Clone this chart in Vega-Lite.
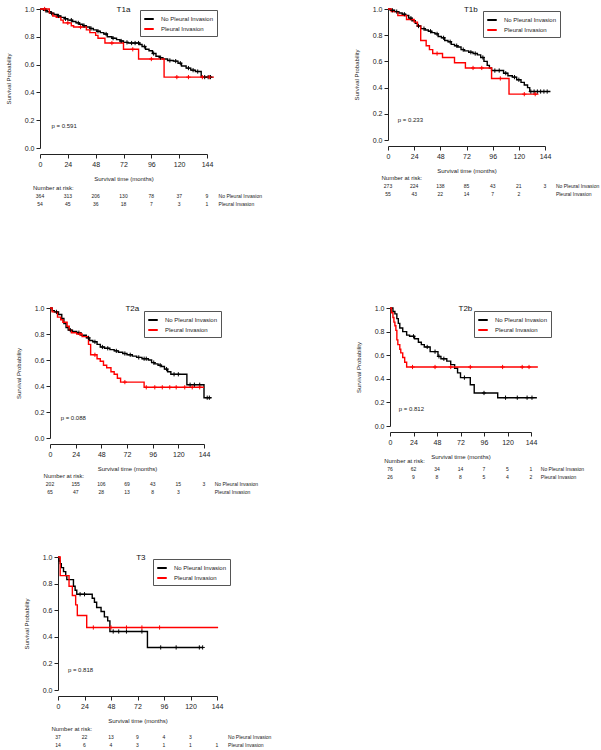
{
"$schema":"https://vega.github.io/schema/vega-lite/v6.json",
"padding":{"left":0,"top":4,"right":0,"bottom":0},
"background":"white",
"config":{"font":"Liberation Sans","view":{"stroke":null},
"axis":{"domainColor":"#222","tickColor":"#222","labelColor":"#222","titleColor":"#222","labelFontSize":7,"titleFontSize":6,"titleFontWeight":"normal","tickSize":4,"labelPadding":2,"grid":false,"labelOverlap":false,"labelFont":"Liberation Sans","titleFont":"Liberation Sans"},
"legend":{"labelFontSize":6,"symbolType":"stroke","symbolStrokeWidth":2,"symbolSize":90,"strokeColor":"#555","padding":3,"rowPadding":0,"labelOffset":6,"fillColor":"#ffffff","labelColor":"#222","labelFont":"Liberation Sans"}},
"datasets":{
"km":[
{"p":"T1a","g":"No Pleural Invasion","t":0,"s":1},{"p":"T1a","g":"No Pleural Invasion","t":3,"s":0.99},{"p":"T1a","g":"No Pleural Invasion","t":6,"s":0.98},{"p":"T1a","g":"No Pleural Invasion","t":9,"s":0.97},{"p":"T1a","g":"No Pleural Invasion","t":12,"s":0.96},{"p":"T1a","g":"No Pleural Invasion","t":15,"s":0.95},{"p":"T1a","g":"No Pleural Invasion","t":18,"s":0.94},{"p":"T1a","g":"No Pleural Invasion","t":21,"s":0.93},{"p":"T1a","g":"No Pleural Invasion","t":24,"s":0.92},{"p":"T1a","g":"No Pleural Invasion","t":28,"s":0.91},{"p":"T1a","g":"No Pleural Invasion","t":31,"s":0.90},{"p":"T1a","g":"No Pleural Invasion","t":34,"s":0.89},{"p":"T1a","g":"No Pleural Invasion","t":37,"s":0.88},{"p":"T1a","g":"No Pleural Invasion","t":40,"s":0.87},{"p":"T1a","g":"No Pleural Invasion","t":43,"s":0.86},{"p":"T1a","g":"No Pleural Invasion","t":46,"s":0.85},{"p":"T1a","g":"No Pleural Invasion","t":49,"s":0.84},{"p":"T1a","g":"No Pleural Invasion","t":52,"s":0.83},{"p":"T1a","g":"No Pleural Invasion","t":55,"s":0.82},{"p":"T1a","g":"No Pleural Invasion","t":58,"s":0.80},{"p":"T1a","g":"No Pleural Invasion","t":62,"s":0.79},{"p":"T1a","g":"No Pleural Invasion","t":66,"s":0.78},{"p":"T1a","g":"No Pleural Invasion","t":69,"s":0.77},{"p":"T1a","g":"No Pleural Invasion","t":72,"s":0.76},{"p":"T1a","g":"No Pleural Invasion","t":76,"s":0.755},{"p":"T1a","g":"No Pleural Invasion","t":86,"s":0.745},{"p":"T1a","g":"No Pleural Invasion","t":88,"s":0.73},{"p":"T1a","g":"No Pleural Invasion","t":91,"s":0.71},{"p":"T1a","g":"No Pleural Invasion","t":94,"s":0.70},{"p":"T1a","g":"No Pleural Invasion","t":97,"s":0.68},{"p":"T1a","g":"No Pleural Invasion","t":100,"s":0.66},{"p":"T1a","g":"No Pleural Invasion","t":103,"s":0.65},{"p":"T1a","g":"No Pleural Invasion","t":106,"s":0.64},{"p":"T1a","g":"No Pleural Invasion","t":110,"s":0.63},{"p":"T1a","g":"No Pleural Invasion","t":115,"s":0.625},{"p":"T1a","g":"No Pleural Invasion","t":119,"s":0.61},{"p":"T1a","g":"No Pleural Invasion","t":122,"s":0.59},{"p":"T1a","g":"No Pleural Invasion","t":126,"s":0.575},{"p":"T1a","g":"No Pleural Invasion","t":130,"s":0.56},{"p":"T1a","g":"No Pleural Invasion","t":134,"s":0.55},{"p":"T1a","g":"No Pleural Invasion","t":139,"s":0.51},{"p":"T1a","g":"No Pleural Invasion","t":148,"s":0.51},
{"p":"T1a","g":"Pleural Invasion","t":0,"s":1},{"p":"T1a","g":"Pleural Invasion","t":8,"s":0.97},{"p":"T1a","g":"Pleural Invasion","t":11,"s":0.95},{"p":"T1a","g":"Pleural Invasion","t":14,"s":0.94},{"p":"T1a","g":"Pleural Invasion","t":18,"s":0.92},{"p":"T1a","g":"Pleural Invasion","t":20,"s":0.90},{"p":"T1a","g":"Pleural Invasion","t":27,"s":0.88},{"p":"T1a","g":"Pleural Invasion","t":29,"s":0.87},{"p":"T1a","g":"Pleural Invasion","t":40,"s":0.85},{"p":"T1a","g":"Pleural Invasion","t":43,"s":0.83},{"p":"T1a","g":"Pleural Invasion","t":48,"s":0.81},{"p":"T1a","g":"Pleural Invasion","t":50,"s":0.79},{"p":"T1a","g":"Pleural Invasion","t":56,"s":0.755},{"p":"T1a","g":"Pleural Invasion","t":72,"s":0.71},{"p":"T1a","g":"Pleural Invasion","t":85,"s":0.64},{"p":"T1a","g":"Pleural Invasion","t":107,"s":0.51},{"p":"T1a","g":"Pleural Invasion","t":150,"s":0.51},
{"p":"T1b","g":"No Pleural Invasion","t":0,"s":1},{"p":"T1b","g":"No Pleural Invasion","t":2,"s":0.99},{"p":"T1b","g":"No Pleural Invasion","t":6,"s":0.98},{"p":"T1b","g":"No Pleural Invasion","t":10,"s":0.97},{"p":"T1b","g":"No Pleural Invasion","t":13,"s":0.96},{"p":"T1b","g":"No Pleural Invasion","t":16,"s":0.95},{"p":"T1b","g":"No Pleural Invasion","t":19,"s":0.93},{"p":"T1b","g":"No Pleural Invasion","t":22,"s":0.91},{"p":"T1b","g":"No Pleural Invasion","t":25,"s":0.89},{"p":"T1b","g":"No Pleural Invasion","t":27,"s":0.87},{"p":"T1b","g":"No Pleural Invasion","t":30,"s":0.85},{"p":"T1b","g":"No Pleural Invasion","t":34,"s":0.84},{"p":"T1b","g":"No Pleural Invasion","t":37,"s":0.83},{"p":"T1b","g":"No Pleural Invasion","t":40,"s":0.82},{"p":"T1b","g":"No Pleural Invasion","t":43,"s":0.81},{"p":"T1b","g":"No Pleural Invasion","t":46,"s":0.79},{"p":"T1b","g":"No Pleural Invasion","t":49,"s":0.78},{"p":"T1b","g":"No Pleural Invasion","t":52,"s":0.76},{"p":"T1b","g":"No Pleural Invasion","t":55,"s":0.75},{"p":"T1b","g":"No Pleural Invasion","t":58,"s":0.73},{"p":"T1b","g":"No Pleural Invasion","t":61,"s":0.72},{"p":"T1b","g":"No Pleural Invasion","t":64,"s":0.71},{"p":"T1b","g":"No Pleural Invasion","t":67,"s":0.69},{"p":"T1b","g":"No Pleural Invasion","t":70,"s":0.68},{"p":"T1b","g":"No Pleural Invasion","t":74,"s":0.67},{"p":"T1b","g":"No Pleural Invasion","t":78,"s":0.66},{"p":"T1b","g":"No Pleural Invasion","t":82,"s":0.65},{"p":"T1b","g":"No Pleural Invasion","t":85,"s":0.63},{"p":"T1b","g":"No Pleural Invasion","t":88,"s":0.60},{"p":"T1b","g":"No Pleural Invasion","t":91,"s":0.57},{"p":"T1b","g":"No Pleural Invasion","t":93,"s":0.55},{"p":"T1b","g":"No Pleural Invasion","t":95,"s":0.53},{"p":"T1b","g":"No Pleural Invasion","t":106,"s":0.51},{"p":"T1b","g":"No Pleural Invasion","t":110,"s":0.49},{"p":"T1b","g":"No Pleural Invasion","t":114,"s":0.48},{"p":"T1b","g":"No Pleural Invasion","t":118,"s":0.46},{"p":"T1b","g":"No Pleural Invasion","t":122,"s":0.44},{"p":"T1b","g":"No Pleural Invasion","t":125,"s":0.42},{"p":"T1b","g":"No Pleural Invasion","t":128,"s":0.40},{"p":"T1b","g":"No Pleural Invasion","t":130,"s":0.37},{"p":"T1b","g":"No Pleural Invasion","t":149,"s":0.37},
{"p":"T1b","g":"Pleural Invasion","t":0,"s":1},{"p":"T1b","g":"Pleural Invasion","t":3,"s":0.98},{"p":"T1b","g":"Pleural Invasion","t":9,"s":0.95},{"p":"T1b","g":"Pleural Invasion","t":17,"s":0.92},{"p":"T1b","g":"Pleural Invasion","t":24,"s":0.90},{"p":"T1b","g":"Pleural Invasion","t":27,"s":0.87},{"p":"T1b","g":"Pleural Invasion","t":30,"s":0.76},{"p":"T1b","g":"Pleural Invasion","t":35,"s":0.72},{"p":"T1b","g":"Pleural Invasion","t":38,"s":0.69},{"p":"T1b","g":"Pleural Invasion","t":41,"s":0.66},{"p":"T1b","g":"Pleural Invasion","t":50,"s":0.63},{"p":"T1b","g":"Pleural Invasion","t":61,"s":0.59},{"p":"T1b","g":"Pleural Invasion","t":71,"s":0.55},{"p":"T1b","g":"Pleural Invasion","t":95,"s":0.47},{"p":"T1b","g":"Pleural Invasion","t":111,"s":0.35},{"p":"T1b","g":"Pleural Invasion","t":138,"s":0.35},
{"p":"T2a","g":"No Pleural Invasion","t":0,"s":1},{"p":"T2a","g":"No Pleural Invasion","t":2,"s":0.98},{"p":"T2a","g":"No Pleural Invasion","t":4,"s":0.97},{"p":"T2a","g":"No Pleural Invasion","t":8,"s":0.95},{"p":"T2a","g":"No Pleural Invasion","t":11,"s":0.92},{"p":"T2a","g":"No Pleural Invasion","t":13,"s":0.88},{"p":"T2a","g":"No Pleural Invasion","t":15,"s":0.85},{"p":"T2a","g":"No Pleural Invasion","t":17,"s":0.83},{"p":"T2a","g":"No Pleural Invasion","t":21,"s":0.82},{"p":"T2a","g":"No Pleural Invasion","t":25,"s":0.81},{"p":"T2a","g":"No Pleural Invasion","t":29,"s":0.79},{"p":"T2a","g":"No Pleural Invasion","t":34,"s":0.77},{"p":"T2a","g":"No Pleural Invasion","t":37,"s":0.75},{"p":"T2a","g":"No Pleural Invasion","t":40,"s":0.74},{"p":"T2a","g":"No Pleural Invasion","t":44,"s":0.72},{"p":"T2a","g":"No Pleural Invasion","t":47,"s":0.70},{"p":"T2a","g":"No Pleural Invasion","t":51,"s":0.69},{"p":"T2a","g":"No Pleural Invasion","t":56,"s":0.68},{"p":"T2a","g":"No Pleural Invasion","t":60,"s":0.67},{"p":"T2a","g":"No Pleural Invasion","t":64,"s":0.66},{"p":"T2a","g":"No Pleural Invasion","t":68,"s":0.65},{"p":"T2a","g":"No Pleural Invasion","t":72,"s":0.64},{"p":"T2a","g":"No Pleural Invasion","t":77,"s":0.63},{"p":"T2a","g":"No Pleural Invasion","t":81,"s":0.62},{"p":"T2a","g":"No Pleural Invasion","t":86,"s":0.61},{"p":"T2a","g":"No Pleural Invasion","t":92,"s":0.60},{"p":"T2a","g":"No Pleural Invasion","t":95,"s":0.58},{"p":"T2a","g":"No Pleural Invasion","t":98,"s":0.57},{"p":"T2a","g":"No Pleural Invasion","t":101,"s":0.56},{"p":"T2a","g":"No Pleural Invasion","t":104,"s":0.55},{"p":"T2a","g":"No Pleural Invasion","t":107,"s":0.53},{"p":"T2a","g":"No Pleural Invasion","t":110,"s":0.51},{"p":"T2a","g":"No Pleural Invasion","t":113,"s":0.49},{"p":"T2a","g":"No Pleural Invasion","t":128,"s":0.41},{"p":"T2a","g":"No Pleural Invasion","t":144,"s":0.31},{"p":"T2a","g":"No Pleural Invasion","t":151,"s":0.31},
{"p":"T2a","g":"Pleural Invasion","t":0,"s":1},{"p":"T2a","g":"Pleural Invasion","t":2,"s":0.97},{"p":"T2a","g":"Pleural Invasion","t":7,"s":0.93},{"p":"T2a","g":"Pleural Invasion","t":10,"s":0.91},{"p":"T2a","g":"Pleural Invasion","t":12,"s":0.89},{"p":"T2a","g":"Pleural Invasion","t":16,"s":0.86},{"p":"T2a","g":"Pleural Invasion","t":18,"s":0.83},{"p":"T2a","g":"Pleural Invasion","t":20,"s":0.81},{"p":"T2a","g":"Pleural Invasion","t":25,"s":0.80},{"p":"T2a","g":"Pleural Invasion","t":30,"s":0.78},{"p":"T2a","g":"Pleural Invasion","t":36,"s":0.72},{"p":"T2a","g":"Pleural Invasion","t":38,"s":0.64},{"p":"T2a","g":"Pleural Invasion","t":44,"s":0.61},{"p":"T2a","g":"Pleural Invasion","t":47,"s":0.59},{"p":"T2a","g":"Pleural Invasion","t":50,"s":0.56},{"p":"T2a","g":"Pleural Invasion","t":53,"s":0.54},{"p":"T2a","g":"Pleural Invasion","t":57,"s":0.51},{"p":"T2a","g":"Pleural Invasion","t":60,"s":0.49},{"p":"T2a","g":"Pleural Invasion","t":63,"s":0.46},{"p":"T2a","g":"Pleural Invasion","t":66,"s":0.43},{"p":"T2a","g":"Pleural Invasion","t":88,"s":0.39},{"p":"T2a","g":"Pleural Invasion","t":144,"s":0.39},
{"p":"T2b","g":"No Pleural Invasion","t":0,"s":1},{"p":"T2b","g":"No Pleural Invasion","t":3,"s":0.97},{"p":"T2b","g":"No Pleural Invasion","t":5,"s":0.95},{"p":"T2b","g":"No Pleural Invasion","t":7,"s":0.91},{"p":"T2b","g":"No Pleural Invasion","t":8.5,"s":0.87},{"p":"T2b","g":"No Pleural Invasion","t":10,"s":0.83},{"p":"T2b","g":"No Pleural Invasion","t":13,"s":0.80},{"p":"T2b","g":"No Pleural Invasion","t":17,"s":0.77},{"p":"T2b","g":"No Pleural Invasion","t":20,"s":0.76},{"p":"T2b","g":"No Pleural Invasion","t":25,"s":0.74},{"p":"T2b","g":"No Pleural Invasion","t":29,"s":0.71},{"p":"T2b","g":"No Pleural Invasion","t":32,"s":0.69},{"p":"T2b","g":"No Pleural Invasion","t":35,"s":0.67},{"p":"T2b","g":"No Pleural Invasion","t":41,"s":0.63},{"p":"T2b","g":"No Pleural Invasion","t":49,"s":0.59},{"p":"T2b","g":"No Pleural Invasion","t":52,"s":0.57},{"p":"T2b","g":"No Pleural Invasion","t":58,"s":0.55},{"p":"T2b","g":"No Pleural Invasion","t":62,"s":0.52},{"p":"T2b","g":"No Pleural Invasion","t":66,"s":0.49},{"p":"T2b","g":"No Pleural Invasion","t":69,"s":0.45},{"p":"T2b","g":"No Pleural Invasion","t":72,"s":0.41},{"p":"T2b","g":"No Pleural Invasion","t":82,"s":0.35},{"p":"T2b","g":"No Pleural Invasion","t":86,"s":0.28},{"p":"T2b","g":"No Pleural Invasion","t":110,"s":0.24},{"p":"T2b","g":"No Pleural Invasion","t":150,"s":0.24},
{"p":"T2b","g":"Pleural Invasion","t":0,"s":1},{"p":"T2b","g":"Pleural Invasion","t":1.5,"s":0.96},{"p":"T2b","g":"Pleural Invasion","t":3,"s":0.92},{"p":"T2b","g":"Pleural Invasion","t":4,"s":0.88},{"p":"T2b","g":"Pleural Invasion","t":5,"s":0.85},{"p":"T2b","g":"Pleural Invasion","t":6,"s":0.81},{"p":"T2b","g":"Pleural Invasion","t":7,"s":0.73},{"p":"T2b","g":"Pleural Invasion","t":8,"s":0.69},{"p":"T2b","g":"Pleural Invasion","t":10,"s":0.65},{"p":"T2b","g":"Pleural Invasion","t":11,"s":0.62},{"p":"T2b","g":"Pleural Invasion","t":13,"s":0.58},{"p":"T2b","g":"Pleural Invasion","t":15,"s":0.54},{"p":"T2b","g":"Pleural Invasion","t":17,"s":0.50},{"p":"T2b","g":"Pleural Invasion","t":151,"s":0.50},
{"p":"T3","g":"No Pleural Invasion","t":0,"s":1},{"p":"T3","g":"No Pleural Invasion","t":1,"s":0.97},{"p":"T3","g":"No Pleural Invasion","t":2,"s":0.95},{"p":"T3","g":"No Pleural Invasion","t":3,"s":0.92},{"p":"T3","g":"No Pleural Invasion","t":5,"s":0.89},{"p":"T3","g":"No Pleural Invasion","t":7,"s":0.86},{"p":"T3","g":"No Pleural Invasion","t":8,"s":0.83},{"p":"T3","g":"No Pleural Invasion","t":14,"s":0.78},{"p":"T3","g":"No Pleural Invasion","t":15.5,"s":0.75},{"p":"T3","g":"No Pleural Invasion","t":17,"s":0.72},{"p":"T3","g":"No Pleural Invasion","t":31,"s":0.69},{"p":"T3","g":"No Pleural Invasion","t":33,"s":0.66},{"p":"T3","g":"No Pleural Invasion","t":35,"s":0.62},{"p":"T3","g":"No Pleural Invasion","t":39,"s":0.59},{"p":"T3","g":"No Pleural Invasion","t":42,"s":0.55},{"p":"T3","g":"No Pleural Invasion","t":45,"s":0.52},{"p":"T3","g":"No Pleural Invasion","t":47,"s":0.44},{"p":"T3","g":"No Pleural Invasion","t":81,"s":0.32},{"p":"T3","g":"No Pleural Invasion","t":131,"s":0.32},
{"p":"T3","g":"Pleural Invasion","t":0,"s":1},{"p":"T3","g":"Pleural Invasion","t":2,"s":0.86},{"p":"T3","g":"Pleural Invasion","t":10,"s":0.78},{"p":"T3","g":"Pleural Invasion","t":13,"s":0.71},{"p":"T3","g":"Pleural Invasion","t":16,"s":0.64},{"p":"T3","g":"Pleural Invasion","t":17.5,"s":0.56},{"p":"T3","g":"Pleural Invasion","t":26,"s":0.47},{"p":"T3","g":"Pleural Invasion","t":145,"s":0.47}
],
"cens":[
{"p":"T1a","g":"No Pleural Invasion","t":5,"s":0.99},{"p":"T1a","g":"No Pleural Invasion","t":10,"s":0.97},{"p":"T1a","g":"No Pleural Invasion","t":16,"s":0.95},{"p":"T1a","g":"No Pleural Invasion","t":22,"s":0.93},{"p":"T1a","g":"No Pleural Invasion","t":27,"s":0.92},{"p":"T1a","g":"No Pleural Invasion","t":33,"s":0.90},{"p":"T1a","g":"No Pleural Invasion","t":38,"s":0.88},{"p":"T1a","g":"No Pleural Invasion","t":44,"s":0.86},{"p":"T1a","g":"No Pleural Invasion","t":50,"s":0.84},{"p":"T1a","g":"No Pleural Invasion","t":57,"s":0.82},{"p":"T1a","g":"No Pleural Invasion","t":63,"s":0.79},{"p":"T1a","g":"No Pleural Invasion","t":70,"s":0.77},{"p":"T1a","g":"No Pleural Invasion","t":75,"s":0.76},{"p":"T1a","g":"No Pleural Invasion","t":79,"s":0.755},{"p":"T1a","g":"No Pleural Invasion","t":82,"s":0.755},{"p":"T1a","g":"No Pleural Invasion","t":85,"s":0.755},{"p":"T1a","g":"No Pleural Invasion","t":90,"s":0.73},{"p":"T1a","g":"No Pleural Invasion","t":98,"s":0.68},{"p":"T1a","g":"No Pleural Invasion","t":104,"s":0.65},{"p":"T1a","g":"No Pleural Invasion","t":112,"s":0.63},{"p":"T1a","g":"No Pleural Invasion","t":117,"s":0.625},{"p":"T1a","g":"No Pleural Invasion","t":121,"s":0.61},{"p":"T1a","g":"No Pleural Invasion","t":128,"s":0.575},{"p":"T1a","g":"No Pleural Invasion","t":132,"s":0.56},{"p":"T1a","g":"No Pleural Invasion","t":136,"s":0.55},{"p":"T1a","g":"No Pleural Invasion","t":142,"s":0.51},{"p":"T1a","g":"No Pleural Invasion","t":145,"s":0.51},{"p":"T1a","g":"No Pleural Invasion","t":147,"s":0.51},
{"p":"T1a","g":"Pleural Invasion","t":4,"s":1},{"p":"T1a","g":"Pleural Invasion","t":24,"s":0.90},{"p":"T1a","g":"Pleural Invasion","t":35,"s":0.87},{"p":"T1a","g":"Pleural Invasion","t":62,"s":0.755},{"p":"T1a","g":"Pleural Invasion","t":80,"s":0.71},{"p":"T1a","g":"Pleural Invasion","t":96,"s":0.64},{"p":"T1a","g":"Pleural Invasion","t":118,"s":0.51},{"p":"T1a","g":"Pleural Invasion","t":128,"s":0.51},{"p":"T1a","g":"Pleural Invasion","t":140,"s":0.51},{"p":"T1a","g":"Pleural Invasion","t":146,"s":0.51},
{"p":"T1b","g":"No Pleural Invasion","t":4,"s":0.99},{"p":"T1b","g":"No Pleural Invasion","t":8,"s":0.98},{"p":"T1b","g":"No Pleural Invasion","t":15,"s":0.96},{"p":"T1b","g":"No Pleural Invasion","t":21,"s":0.93},{"p":"T1b","g":"No Pleural Invasion","t":28,"s":0.87},{"p":"T1b","g":"No Pleural Invasion","t":33,"s":0.85},{"p":"T1b","g":"No Pleural Invasion","t":39,"s":0.83},{"p":"T1b","g":"No Pleural Invasion","t":45,"s":0.81},{"p":"T1b","g":"No Pleural Invasion","t":51,"s":0.78},{"p":"T1b","g":"No Pleural Invasion","t":57,"s":0.75},{"p":"T1b","g":"No Pleural Invasion","t":63,"s":0.72},{"p":"T1b","g":"No Pleural Invasion","t":69,"s":0.69},{"p":"T1b","g":"No Pleural Invasion","t":76,"s":0.67},{"p":"T1b","g":"No Pleural Invasion","t":80,"s":0.66},{"p":"T1b","g":"No Pleural Invasion","t":87,"s":0.63},{"p":"T1b","g":"No Pleural Invasion","t":98,"s":0.53},{"p":"T1b","g":"No Pleural Invasion","t":102,"s":0.53},{"p":"T1b","g":"No Pleural Invasion","t":108,"s":0.51},{"p":"T1b","g":"No Pleural Invasion","t":116,"s":0.48},{"p":"T1b","g":"No Pleural Invasion","t":120,"s":0.46},{"p":"T1b","g":"No Pleural Invasion","t":131,"s":0.37},{"p":"T1b","g":"No Pleural Invasion","t":134,"s":0.37},{"p":"T1b","g":"No Pleural Invasion","t":137,"s":0.37},{"p":"T1b","g":"No Pleural Invasion","t":140,"s":0.37},{"p":"T1b","g":"No Pleural Invasion","t":143,"s":0.37},{"p":"T1b","g":"No Pleural Invasion","t":146,"s":0.37},
{"p":"T1b","g":"Pleural Invasion","t":45,"s":0.66},{"p":"T1b","g":"Pleural Invasion","t":78,"s":0.55},{"p":"T1b","g":"Pleural Invasion","t":86,"s":0.55},{"p":"T1b","g":"Pleural Invasion","t":103,"s":0.47},{"p":"T1b","g":"Pleural Invasion","t":125,"s":0.35},{"p":"T1b","g":"Pleural Invasion","t":135,"s":0.35},
{"p":"T2a","g":"No Pleural Invasion","t":6,"s":0.97},{"p":"T2a","g":"No Pleural Invasion","t":19,"s":0.83},{"p":"T2a","g":"No Pleural Invasion","t":27,"s":0.81},{"p":"T2a","g":"No Pleural Invasion","t":36,"s":0.77},{"p":"T2a","g":"No Pleural Invasion","t":42,"s":0.74},{"p":"T2a","g":"No Pleural Invasion","t":49,"s":0.70},{"p":"T2a","g":"No Pleural Invasion","t":54,"s":0.69},{"p":"T2a","g":"No Pleural Invasion","t":62,"s":0.67},{"p":"T2a","g":"No Pleural Invasion","t":70,"s":0.65},{"p":"T2a","g":"No Pleural Invasion","t":75,"s":0.64},{"p":"T2a","g":"No Pleural Invasion","t":83,"s":0.62},{"p":"T2a","g":"No Pleural Invasion","t":88,"s":0.61},{"p":"T2a","g":"No Pleural Invasion","t":90,"s":0.61},{"p":"T2a","g":"No Pleural Invasion","t":97,"s":0.58},{"p":"T2a","g":"No Pleural Invasion","t":103,"s":0.56},{"p":"T2a","g":"No Pleural Invasion","t":109,"s":0.53},{"p":"T2a","g":"No Pleural Invasion","t":116,"s":0.49},{"p":"T2a","g":"No Pleural Invasion","t":120,"s":0.49},{"p":"T2a","g":"No Pleural Invasion","t":131,"s":0.41},{"p":"T2a","g":"No Pleural Invasion","t":135,"s":0.41},{"p":"T2a","g":"No Pleural Invasion","t":140,"s":0.41},{"p":"T2a","g":"No Pleural Invasion","t":147,"s":0.31},{"p":"T2a","g":"No Pleural Invasion","t":149,"s":0.31},
{"p":"T2a","g":"Pleural Invasion","t":28,"s":0.80},{"p":"T2a","g":"Pleural Invasion","t":42,"s":0.64},{"p":"T2a","g":"Pleural Invasion","t":70,"s":0.43},{"p":"T2a","g":"Pleural Invasion","t":90,"s":0.39},{"p":"T2a","g":"Pleural Invasion","t":98,"s":0.39},{"p":"T2a","g":"Pleural Invasion","t":105,"s":0.39},{"p":"T2a","g":"Pleural Invasion","t":112,"s":0.39},{"p":"T2a","g":"Pleural Invasion","t":118,"s":0.39},{"p":"T2a","g":"Pleural Invasion","t":126,"s":0.39},{"p":"T2a","g":"Pleural Invasion","t":133,"s":0.39},{"p":"T2a","g":"Pleural Invasion","t":140,"s":0.39},
{"p":"T2b","g":"No Pleural Invasion","t":24,"s":0.76},{"p":"T2b","g":"No Pleural Invasion","t":38,"s":0.67},{"p":"T2b","g":"No Pleural Invasion","t":46,"s":0.63},{"p":"T2b","g":"No Pleural Invasion","t":50,"s":0.59},{"p":"T2b","g":"No Pleural Invasion","t":55,"s":0.57},{"p":"T2b","g":"No Pleural Invasion","t":76,"s":0.41},{"p":"T2b","g":"No Pleural Invasion","t":96,"s":0.28},{"p":"T2b","g":"No Pleural Invasion","t":118,"s":0.24},{"p":"T2b","g":"No Pleural Invasion","t":130,"s":0.24},{"p":"T2b","g":"No Pleural Invasion","t":140,"s":0.24},{"p":"T2b","g":"No Pleural Invasion","t":145,"s":0.24},
{"p":"T2b","g":"Pleural Invasion","t":23,"s":0.50},{"p":"T2b","g":"Pleural Invasion","t":46,"s":0.50},{"p":"T2b","g":"Pleural Invasion","t":62,"s":0.50},{"p":"T2b","g":"Pleural Invasion","t":82,"s":0.50},{"p":"T2b","g":"Pleural Invasion","t":115,"s":0.50},{"p":"T2b","g":"Pleural Invasion","t":135,"s":0.50},{"p":"T2b","g":"Pleural Invasion","t":142,"s":0.50},
{"p":"T3","g":"No Pleural Invasion","t":20,"s":0.72},{"p":"T3","g":"No Pleural Invasion","t":24,"s":0.72},{"p":"T3","g":"No Pleural Invasion","t":50,"s":0.44},{"p":"T3","g":"No Pleural Invasion","t":55,"s":0.44},{"p":"T3","g":"No Pleural Invasion","t":62,"s":0.44},{"p":"T3","g":"No Pleural Invasion","t":76,"s":0.44},{"p":"T3","g":"No Pleural Invasion","t":93,"s":0.32},{"p":"T3","g":"No Pleural Invasion","t":107,"s":0.32},{"p":"T3","g":"No Pleural Invasion","t":128,"s":0.32},{"p":"T3","g":"No Pleural Invasion","t":131,"s":0.32},
{"p":"T3","g":"Pleural Invasion","t":32,"s":0.47},{"p":"T3","g":"Pleural Invasion","t":48,"s":0.47},{"p":"T3","g":"Pleural Invasion","t":62,"s":0.47},{"p":"T3","g":"Pleural Invasion","t":76,"s":0.47},{"p":"T3","g":"Pleural Invasion","t":92,"s":0.47}
],
"notes":[
{"p":"T1a","k":"title","t":72,"s":0.99,"txt":"T1a"},{"p":"T1a","k":"pval","t":10,"s":0.155,"txt":"p = 0.591"},
{"p":"T1b","k":"title","t":76,"s":0.99,"txt":"T1b"},{"p":"T1b","k":"pval","t":9,"s":0.15,"txt":"p = 0.233"},
{"p":"T2a","k":"title","t":77,"s":0.99,"txt":"T2a"},{"p":"T2a","k":"pval","t":10,"s":0.155,"txt":"p = 0.088"},
{"p":"T2b","k":"title","t":77,"s":0.99,"txt":"T2b"},{"p":"T2b","k":"pval","t":9,"s":0.145,"txt":"p = 0.812"},
{"p":"T3","k":"title","t":75,"s":0.99,"txt":"T3"},{"p":"T3","k":"pval","t":9,"s":0.15,"txt":"p = 0.818"}
],
"risk":[
{"p":"T1a","r":1,"t":0,"n":364},{"p":"T1a","r":1,"t":24,"n":313},{"p":"T1a","r":1,"t":48,"n":206},{"p":"T1a","r":1,"t":72,"n":130},{"p":"T1a","r":1,"t":96,"n":78},{"p":"T1a","r":1,"t":120,"n":37},{"p":"T1a","r":1,"t":144,"n":9},
{"p":"T1a","r":2,"t":0,"n":54},{"p":"T1a","r":2,"t":24,"n":45},{"p":"T1a","r":2,"t":48,"n":36},{"p":"T1a","r":2,"t":72,"n":18},{"p":"T1a","r":2,"t":96,"n":7},{"p":"T1a","r":2,"t":120,"n":3},{"p":"T1a","r":2,"t":144,"n":1},
{"p":"T1b","r":1,"t":0,"n":273},{"p":"T1b","r":1,"t":24,"n":224},{"p":"T1b","r":1,"t":48,"n":138},{"p":"T1b","r":1,"t":72,"n":85},{"p":"T1b","r":1,"t":96,"n":43},{"p":"T1b","r":1,"t":120,"n":21},{"p":"T1b","r":1,"t":144,"n":3},
{"p":"T1b","r":2,"t":0,"n":55},{"p":"T1b","r":2,"t":24,"n":43},{"p":"T1b","r":2,"t":48,"n":22},{"p":"T1b","r":2,"t":72,"n":14},{"p":"T1b","r":2,"t":96,"n":7},{"p":"T1b","r":2,"t":120,"n":2},
{"p":"T2a","r":1,"t":0,"n":202},{"p":"T2a","r":1,"t":24,"n":155},{"p":"T2a","r":1,"t":48,"n":106},{"p":"T2a","r":1,"t":72,"n":69},{"p":"T2a","r":1,"t":96,"n":43},{"p":"T2a","r":1,"t":120,"n":15},{"p":"T2a","r":1,"t":144,"n":3},
{"p":"T2a","r":2,"t":0,"n":65},{"p":"T2a","r":2,"t":24,"n":47},{"p":"T2a","r":2,"t":48,"n":28},{"p":"T2a","r":2,"t":72,"n":13},{"p":"T2a","r":2,"t":96,"n":8},{"p":"T2a","r":2,"t":120,"n":3},
{"p":"T2b","r":1,"t":0,"n":76},{"p":"T2b","r":1,"t":24,"n":62},{"p":"T2b","r":1,"t":48,"n":34},{"p":"T2b","r":1,"t":72,"n":14},{"p":"T2b","r":1,"t":96,"n":7},{"p":"T2b","r":1,"t":120,"n":5},{"p":"T2b","r":1,"t":144,"n":1},
{"p":"T2b","r":2,"t":0,"n":26},{"p":"T2b","r":2,"t":24,"n":9},{"p":"T2b","r":2,"t":48,"n":8},{"p":"T2b","r":2,"t":72,"n":8},{"p":"T2b","r":2,"t":96,"n":5},{"p":"T2b","r":2,"t":120,"n":4},{"p":"T2b","r":2,"t":144,"n":2},
{"p":"T3","r":1,"t":0,"n":37},{"p":"T3","r":1,"t":24,"n":22},{"p":"T3","r":1,"t":48,"n":13},{"p":"T3","r":1,"t":72,"n":9},{"p":"T3","r":1,"t":96,"n":4},{"p":"T3","r":1,"t":120,"n":3},
{"p":"T3","r":2,"t":0,"n":14},{"p":"T3","r":2,"t":24,"n":6},{"p":"T3","r":2,"t":48,"n":4},{"p":"T3","r":2,"t":72,"n":3},{"p":"T3","r":2,"t":96,"n":1},{"p":"T3","r":2,"t":120,"n":1},{"p":"T3","r":2,"t":144,"n":1}
],
"risklab":[{"r":1,"t":154,"lab":"No Pleural Invasion"},{"r":2,"t":154,"lab":"Pleural Invasion"}],
"riskhead":[{"r":0,"t":-6,"lab":"Number at risk:"}]
},
"resolve":{"scale":{"color":"independent"},"legend":{"color":"independent"}},
"spacing":57,
"vconcat":[
{"spacing":96,"resolve":{"scale":{"color":"independent"},"legend":{"color":"independent"}},
"vconcat":[
{"spacing":0,"resolve":{"scale":{"color":"independent"},"legend":{"color":"independent"}},
"hconcat":[
{"width":5,"height":1,"data":{"values":[]},"mark":"point","encoding":{}},
{"spacing":91,"resolve":{"scale":{"color":"independent"},"legend":{"color":"independent"}},
"hconcat":[
{"bounds":"flush","spacing":35.5,"vconcat":[
{"width":167,"height":139,"layer":[
{"data":{"name":"km"},"transform":[{"filter":"datum.p=='T1a'"}],"mark":{"type":"line","interpolate":"step-after","strokeWidth":1.4},"encoding":{"x":{"field":"t","type":"quantitative","scale":{"domain":[0,144],"nice":false,"zero":false},"axis":{"values":[0,24,48,72,96,120,144],"tickCount":7,"labelOverlap":false,"offset":6,"labelFlush":false,"title":"Survival time (months)","titlePadding":8}},"y":{"field":"s","type":"quantitative","scale":{"domain":[0,1],"nice":false},"axis":{"values":[0,0.2,0.4,0.6,0.8,1],"tickCount":6,"labelOverlap":false,"format":".1f","title":"Survival Probability","titlePadding":13}},"color":{"field":"g","type":"nominal","scale":{"domain":["No Pleural Invasion","Pleural Invasion"],"range":["#000000","#ff0000"]},"legend":{"orient":"none","legendX":100,"legendY":1,"title":null}}}},
{"data":{"name":"cens"},"transform":[{"filter":"datum.p=='T1a'"}],"mark":{"type":"point","shape":"M-1,0H1M0,-1V1","size":18,"strokeWidth":1,"filled":false,"opacity":1},"encoding":{"x":{"field":"t","type":"quantitative"},"y":{"field":"s","type":"quantitative"},"color":{"field":"g","type":"nominal","legend":null}}},
{"data":{"name":"notes"},"transform":[{"filter":"datum.p=='T1a' && datum.k=='title'"}],"mark":{"type":"text","align":"center","fontSize":8,"color":"#111"},"encoding":{"x":{"field":"t","type":"quantitative"},"y":{"field":"s","type":"quantitative"},"text":{"field":"txt"}}},
{"data":{"name":"notes"},"transform":[{"filter":"datum.p=='T1a' && datum.k=='pval'"}],"mark":{"type":"text","align":"left","fontSize":6,"color":"#222"},"encoding":{"x":{"field":"t","type":"quantitative"},"y":{"field":"s","type":"quantitative"},"text":{"field":"txt"}}}
]},
{"width":167,"height":24,"layer":[
{"data":{"name":"risk"},"transform":[{"filter":"datum.p=='T1a'"}],"mark":{"type":"text","fontSize":5,"color":"#222"},"encoding":{"x":{"field":"t","type":"quantitative","scale":{"domain":[0,144],"nice":false,"zero":false},"axis":null},"y":{"field":"r","type":"quantitative","scale":{"domain":[-0.5,2.5],"reverse":true,"nice":false,"zero":false},"axis":null},"text":{"field":"n"}}},
{"data":{"name":"risklab"},"mark":{"type":"text","fontSize":5,"align":"left","color":"#222"},"encoding":{"x":{"field":"t","type":"quantitative"},"y":{"field":"r","type":"quantitative"},"text":{"field":"lab"}}},
{"data":{"name":"riskhead"},"mark":{"type":"text","fontSize":6,"align":"left","color":"#222"},"encoding":{"x":{"field":"t","type":"quantitative"},"y":{"field":"r","type":"quantitative"},"text":{"field":"lab"}}}
]}
]},
{"bounds":"flush","spacing":33.5,"vconcat":[
{"width":157,"height":131,"layer":[
{"data":{"name":"km"},"transform":[{"filter":"datum.p=='T1b'"}],"mark":{"type":"line","interpolate":"step-after","strokeWidth":1.4},"encoding":{"x":{"field":"t","type":"quantitative","scale":{"domain":[0,144],"nice":false,"zero":false},"axis":{"values":[0,24,48,72,96,120,144],"tickCount":7,"labelOverlap":false,"offset":6,"labelFlush":false,"title":"Survival time (months)","titlePadding":8}},"y":{"field":"s","type":"quantitative","scale":{"domain":[0,1],"nice":false},"axis":{"values":[0,0.2,0.4,0.6,0.8,1],"tickCount":6,"labelOverlap":false,"format":".1f","title":"Survival Probability","titlePadding":13}},"color":{"field":"g","type":"nominal","scale":{"domain":["No Pleural Invasion","Pleural Invasion"],"range":["#000000","#ff0000"]},"legend":{"orient":"none","legendX":95,"legendY":2,"title":null}}}},
{"data":{"name":"cens"},"transform":[{"filter":"datum.p=='T1b'"}],"mark":{"type":"point","shape":"M-1,0H1M0,-1V1","size":18,"strokeWidth":1,"filled":false,"opacity":1},"encoding":{"x":{"field":"t","type":"quantitative"},"y":{"field":"s","type":"quantitative"},"color":{"field":"g","type":"nominal","legend":null}}},
{"data":{"name":"notes"},"transform":[{"filter":"datum.p=='T1b' && datum.k=='title'"}],"mark":{"type":"text","align":"center","fontSize":8,"color":"#111"},"encoding":{"x":{"field":"t","type":"quantitative"},"y":{"field":"s","type":"quantitative"},"text":{"field":"txt"}}},
{"data":{"name":"notes"},"transform":[{"filter":"datum.p=='T1b' && datum.k=='pval'"}],"mark":{"type":"text","align":"left","fontSize":6,"color":"#222"},"encoding":{"x":{"field":"t","type":"quantitative"},"y":{"field":"s","type":"quantitative"},"text":{"field":"txt"}}}
]},
{"width":157,"height":24,"layer":[
{"data":{"name":"risk"},"transform":[{"filter":"datum.p=='T1b'"}],"mark":{"type":"text","fontSize":5,"color":"#222"},"encoding":{"x":{"field":"t","type":"quantitative","scale":{"domain":[0,144],"nice":false,"zero":false},"axis":null},"y":{"field":"r","type":"quantitative","scale":{"domain":[-0.5,2.5],"reverse":true,"nice":false,"zero":false},"axis":null},"text":{"field":"n"}}},
{"data":{"name":"risklab"},"mark":{"type":"text","fontSize":5,"align":"left","color":"#222"},"encoding":{"x":{"field":"t","type":"quantitative"},"y":{"field":"r","type":"quantitative"},"text":{"field":"lab"}}},
{"data":{"name":"riskhead"},"mark":{"type":"text","fontSize":6,"align":"left","color":"#222"},"encoding":{"x":{"field":"t","type":"quantitative"},"y":{"field":"r","type":"quantitative"},"text":{"field":"lab"}}}
]}
]}
]}
]},
{"spacing":0,"resolve":{"scale":{"color":"independent"},"legend":{"color":"independent"}},
"hconcat":[
{"width":15,"height":1,"data":{"values":[]},"mark":"point","encoding":{}},
{"spacing":96,"resolve":{"scale":{"color":"independent"},"legend":{"color":"independent"}},
"hconcat":[
{"bounds":"flush","spacing":33.5,"vconcat":[
{"width":154,"height":130,"layer":[
{"data":{"name":"km"},"transform":[{"filter":"datum.p=='T2a'"}],"mark":{"type":"line","interpolate":"step-after","strokeWidth":1.4},"encoding":{"x":{"field":"t","type":"quantitative","scale":{"domain":[0,144],"nice":false,"zero":false},"axis":{"values":[0,24,48,72,96,120,144],"tickCount":7,"labelOverlap":false,"offset":6,"labelFlush":false,"title":"Survival time (months)","titlePadding":8}},"y":{"field":"s","type":"quantitative","scale":{"domain":[0,1],"nice":false},"axis":{"values":[0,0.2,0.4,0.6,0.8,1],"tickCount":6,"labelOverlap":false,"format":".1f","title":"Survival Probability","titlePadding":13}},"color":{"field":"g","type":"nominal","scale":{"domain":["No Pleural Invasion","Pleural Invasion"],"range":["#000000","#ff0000"]},"legend":{"orient":"none","legendX":94,"legendY":3,"title":null}}}},
{"data":{"name":"cens"},"transform":[{"filter":"datum.p=='T2a'"}],"mark":{"type":"point","shape":"M-1,0H1M0,-1V1","size":18,"strokeWidth":1,"filled":false,"opacity":1},"encoding":{"x":{"field":"t","type":"quantitative"},"y":{"field":"s","type":"quantitative"},"color":{"field":"g","type":"nominal","legend":null}}},
{"data":{"name":"notes"},"transform":[{"filter":"datum.p=='T2a' && datum.k=='title'"}],"mark":{"type":"text","align":"center","fontSize":8,"color":"#111"},"encoding":{"x":{"field":"t","type":"quantitative"},"y":{"field":"s","type":"quantitative"},"text":{"field":"txt"}}},
{"data":{"name":"notes"},"transform":[{"filter":"datum.p=='T2a' && datum.k=='pval'"}],"mark":{"type":"text","align":"left","fontSize":6,"color":"#222"},"encoding":{"x":{"field":"t","type":"quantitative"},"y":{"field":"s","type":"quantitative"},"text":{"field":"txt"}}}
]},
{"width":154,"height":24,"layer":[
{"data":{"name":"risk"},"transform":[{"filter":"datum.p=='T2a'"}],"mark":{"type":"text","fontSize":5,"color":"#222"},"encoding":{"x":{"field":"t","type":"quantitative","scale":{"domain":[0,144],"nice":false,"zero":false},"axis":null},"y":{"field":"r","type":"quantitative","scale":{"domain":[-0.5,2.5],"reverse":true,"nice":false,"zero":false},"axis":null},"text":{"field":"n"}}},
{"data":{"name":"risklab"},"mark":{"type":"text","fontSize":5,"align":"left","color":"#222"},"encoding":{"x":{"field":"t","type":"quantitative"},"y":{"field":"r","type":"quantitative"},"text":{"field":"lab"}}},
{"data":{"name":"riskhead"},"mark":{"type":"text","fontSize":6,"align":"left","color":"#222"},"encoding":{"x":{"field":"t","type":"quantitative"},"y":{"field":"r","type":"quantitative"},"text":{"field":"lab"}}}
]}
]},
{"bounds":"flush","spacing":30.5,"vconcat":[
{"width":141,"height":118,"layer":[
{"data":{"name":"km"},"transform":[{"filter":"datum.p=='T2b'"}],"mark":{"type":"line","interpolate":"step-after","strokeWidth":1.4},"encoding":{"x":{"field":"t","type":"quantitative","scale":{"domain":[0,144],"nice":false,"zero":false},"axis":{"values":[0,24,48,72,96,120,144],"tickCount":7,"labelOverlap":false,"offset":6,"labelFlush":false,"title":"Survival time (months)","titlePadding":8}},"y":{"field":"s","type":"quantitative","scale":{"domain":[0,1],"nice":false},"axis":{"values":[0,0.2,0.4,0.6,0.8,1],"tickCount":6,"labelOverlap":false,"format":".1f","title":"Survival Probability","titlePadding":13}},"color":{"field":"g","type":"nominal","scale":{"domain":["No Pleural Invasion","Pleural Invasion"],"range":["#000000","#ff0000"]},"legend":{"orient":"none","legendX":84,"legendY":3,"title":null}}}},
{"data":{"name":"cens"},"transform":[{"filter":"datum.p=='T2b'"}],"mark":{"type":"point","shape":"M-1,0H1M0,-1V1","size":18,"strokeWidth":1,"filled":false,"opacity":1},"encoding":{"x":{"field":"t","type":"quantitative"},"y":{"field":"s","type":"quantitative"},"color":{"field":"g","type":"nominal","legend":null}}},
{"data":{"name":"notes"},"transform":[{"filter":"datum.p=='T2b' && datum.k=='title'"}],"mark":{"type":"text","align":"center","fontSize":8,"color":"#111"},"encoding":{"x":{"field":"t","type":"quantitative"},"y":{"field":"s","type":"quantitative"},"text":{"field":"txt"}}},
{"data":{"name":"notes"},"transform":[{"filter":"datum.p=='T2b' && datum.k=='pval'"}],"mark":{"type":"text","align":"left","fontSize":6,"color":"#222"},"encoding":{"x":{"field":"t","type":"quantitative"},"y":{"field":"s","type":"quantitative"},"text":{"field":"txt"}}}
]},
{"width":141,"height":24,"layer":[
{"data":{"name":"risk"},"transform":[{"filter":"datum.p=='T2b'"}],"mark":{"type":"text","fontSize":5,"color":"#222"},"encoding":{"x":{"field":"t","type":"quantitative","scale":{"domain":[0,144],"nice":false,"zero":false},"axis":null},"y":{"field":"r","type":"quantitative","scale":{"domain":[-0.5,2.5],"reverse":true,"nice":false,"zero":false},"axis":null},"text":{"field":"n"}}},
{"data":{"name":"risklab"},"mark":{"type":"text","fontSize":5,"align":"left","color":"#222"},"encoding":{"x":{"field":"t","type":"quantitative"},"y":{"field":"r","type":"quantitative"},"text":{"field":"lab"}}},
{"data":{"name":"riskhead"},"mark":{"type":"text","fontSize":6,"align":"left","color":"#222"},"encoding":{"x":{"field":"t","type":"quantitative"},"y":{"field":"r","type":"quantitative"},"text":{"field":"lab"}}}
]}
]}
]}
]}
]},
{"spacing":0,"resolve":{"scale":{"color":"independent"},"legend":{"color":"independent"}},
"hconcat":[
{"width":23,"height":1,"data":{"values":[]},"mark":"point","encoding":{}},
{"bounds":"flush","spacing":34.5,"vconcat":[
{"width":159,"height":133,"layer":[
{"data":{"name":"km"},"transform":[{"filter":"datum.p=='T3'"}],"mark":{"type":"line","interpolate":"step-after","strokeWidth":1.4},"encoding":{"x":{"field":"t","type":"quantitative","scale":{"domain":[0,144],"nice":false,"zero":false},"axis":{"values":[0,24,48,72,96,120,144],"tickCount":7,"labelOverlap":false,"offset":6,"labelFlush":false,"title":"Survival time (months)","titlePadding":8}},"y":{"field":"s","type":"quantitative","scale":{"domain":[0,1],"nice":false},"axis":{"values":[0,0.2,0.4,0.6,0.8,1],"tickCount":6,"labelOverlap":false,"format":".1f","title":"Survival Probability","titlePadding":13}},"color":{"field":"g","type":"nominal","scale":{"domain":["No Pleural Invasion","Pleural Invasion"],"range":["#000000","#ff0000"]},"legend":{"orient":"none","legendX":95,"legendY":2,"title":null}}}},
{"data":{"name":"cens"},"transform":[{"filter":"datum.p=='T3'"}],"mark":{"type":"point","shape":"M-1,0H1M0,-1V1","size":18,"strokeWidth":1,"filled":false,"opacity":1},"encoding":{"x":{"field":"t","type":"quantitative"},"y":{"field":"s","type":"quantitative"},"color":{"field":"g","type":"nominal","legend":null}}},
{"data":{"name":"notes"},"transform":[{"filter":"datum.p=='T3' && datum.k=='title'"}],"mark":{"type":"text","align":"center","fontSize":8,"color":"#111"},"encoding":{"x":{"field":"t","type":"quantitative"},"y":{"field":"s","type":"quantitative"},"text":{"field":"txt"}}},
{"data":{"name":"notes"},"transform":[{"filter":"datum.p=='T3' && datum.k=='pval'"}],"mark":{"type":"text","align":"left","fontSize":6,"color":"#222"},"encoding":{"x":{"field":"t","type":"quantitative"},"y":{"field":"s","type":"quantitative"},"text":{"field":"txt"}}}
]},
{"width":159,"height":24,"layer":[
{"data":{"name":"risk"},"transform":[{"filter":"datum.p=='T3'"}],"mark":{"type":"text","fontSize":5,"color":"#222"},"encoding":{"x":{"field":"t","type":"quantitative","scale":{"domain":[0,144],"nice":false,"zero":false},"axis":null},"y":{"field":"r","type":"quantitative","scale":{"domain":[-0.5,2.5],"reverse":true,"nice":false,"zero":false},"axis":null},"text":{"field":"n"}}},
{"data":{"name":"risklab"},"mark":{"type":"text","fontSize":5,"align":"left","color":"#222"},"encoding":{"x":{"field":"t","type":"quantitative"},"y":{"field":"r","type":"quantitative"},"text":{"field":"lab"}}},
{"data":{"name":"riskhead"},"mark":{"type":"text","fontSize":6,"align":"left","color":"#222"},"encoding":{"x":{"field":"t","type":"quantitative"},"y":{"field":"r","type":"quantitative"},"text":{"field":"lab"}}}
]}
]}
]}
]
}
